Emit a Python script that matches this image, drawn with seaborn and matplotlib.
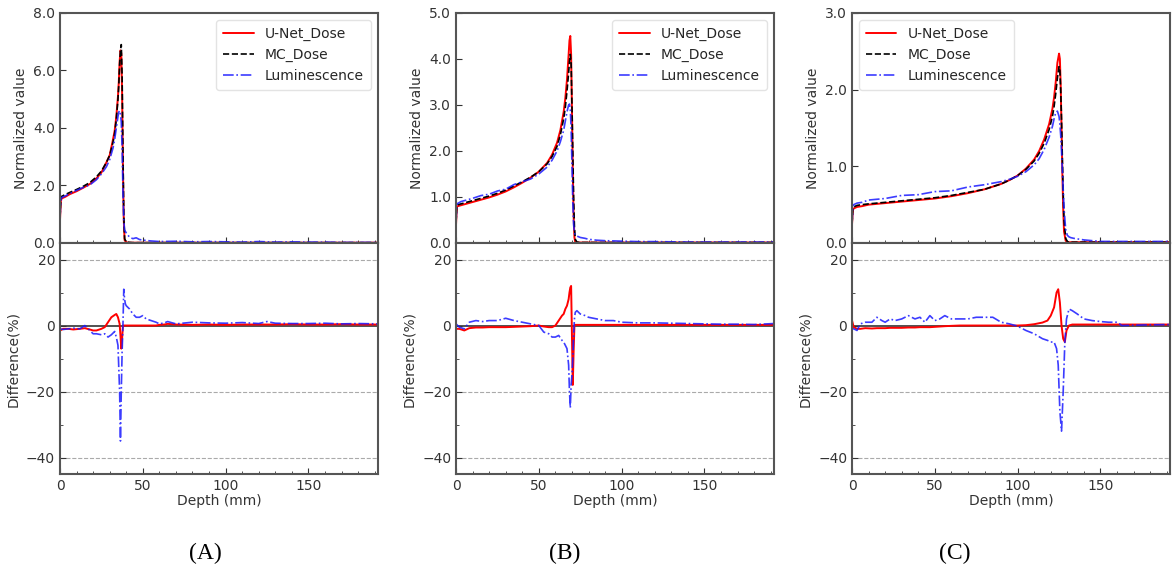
#%% imports
import numpy as np
import pandas as pd
import matplotlib
matplotlib.use('Agg')
import matplotlib.pyplot as plt
import matplotlib.ticker as ticker
import seaborn as sns

#%% data
# panel A: depth-dose profiles
depth_a = [0, 0.5, 1, 3, 6, 10, 14, 18, 22, 25, 28, 30, 32, 33, 34, 35, 35.5, 36, 36.5, 37,
           37.5, 38, 38.5, 39, 40, 42, 44, 46, 48, 50, 55, 60, 70, 80, 90, 100, 110, 120, 130,
           140, 150, 160, 170, 180, 192]
mc_a = [0.9, 1.5, 1.62, 1.68, 1.76, 1.86, 1.97, 2.1, 2.3, 2.5, 2.8, 3.05, 3.5, 3.8, 4.3,
        5.0, 5.5, 6.2, 6.7, 6.9, 5.8, 3.2, 1.0, 0.15, 0.03, 0.02, 0.01, 0.01, 0.01, 0.01,
        0.01, 0.01, 0.01, 0.01, 0.01, 0.01, 0.01, 0.01, 0.01, 0.01, 0.01, 0.01, 0.01, 0.01, 0.01]
unet_a = [0.8, 1.45, 1.55, 1.6, 1.7, 1.8, 1.92, 2.05, 2.25, 2.45, 2.8, 3.05, 3.6, 3.9, 4.4,
          5.1, 5.6, 6.3, 6.7, 6.6, 5.2, 2.6, 0.8, 0.1, 0.02, 0.01, 0.01, 0.01, 0.01, 0.01,
          0.01, 0.01, 0.01, 0.01, 0.01, 0.01, 0.01, 0.01, 0.01, 0.01, 0.01, 0.01, 0.01, 0.01, 0.01]
lum_a = [0.85, 1.5, 1.58, 1.63, 1.72, 1.83, 1.93, 2.02, 2.2, 2.4, 2.65, 2.9, 3.3, 3.6, 4.0,
         4.4, 4.55, 4.6, 4.5, 4.2, 3.3, 1.8, 0.8, 0.45, 0.35, 0.2, 0.15, 0.18, 0.12, 0.1,
         0.07, 0.05, 0.06, 0.04, 0.05, 0.04, 0.03, 0.05, 0.03, 0.04, 0.03, 0.03, 0.02, 0.02, 0.02]

# panel A: differences (%)
depth_diff_a = [0, 2, 5, 8, 12, 15, 18, 20, 22, 25, 27, 29, 31, 33, 34, 35, 36, 36.5, 37, 37.5,
                38, 38.5, 39, 39.5, 40, 42, 44, 46, 48, 50, 52, 55, 58, 60, 63, 65, 70, 80, 90,
                100, 110, 120, 125, 130, 140, 150, 160, 170, 180, 192]
unet_diff_a = [-1.5, -1.0, -1.0, -1.2, -1.0, -0.8, -1.2, -1.5, -1.5, -1.0, -0.5, 1.0, 2.5, 3.2,
               3.5, 2.5, 0.5, -3.0, -7.0, -4.0, 0.0, 0.0, 0.0, 0.0, 0.0, 0.0, 0.0, 0.0, 0.0,
               0.0, 0.0, 0.0, 0.0, 0.2, 0.3, 0.5, 0.3, 0.2, 0.3, 0.2, 0.3, 0.3, 0.3, 0.3, 0.4,
               0.3, 0.3, 0.4, 0.3, 0.3]
lum_diff_a = [-1.0, -1.2, -1.0, -0.8, -1.0, 0.0, -1.5, -2.5, -2.5, -2.8, -2.5, -3.5, -2.8, -1.8,
              -3.5, -6.0, -20.0, -35.0, -20.0, -8.0, 0.0, 11.0, 8.0, 6.5, 6.0, 5.0, 3.5, 2.5,
              2.5, 3.0, 2.0, 1.5, 1.0, 0.5, 0.8, 1.2, 0.5, 1.0, 0.8, 0.7, 0.9, 0.6, 1.2, 0.7,
              0.6, 0.6, 0.7, 0.5, 0.6, 0.5]

# panel B: depth-dose profiles
depth_b = [0, 0.5, 1, 3, 6, 10, 15, 20, 25, 30, 35, 40, 45, 50, 55, 58, 61, 63, 65, 66, 67, 68,
           68.5, 69, 69.5, 70, 70.5, 71, 71.5, 72, 73, 75, 78, 80, 85, 90, 100, 110, 120, 140,
           160, 180, 192]
mc_b = [0.45, 0.8, 0.83, 0.85, 0.88, 0.92, 0.97, 1.02, 1.08, 1.15, 1.24, 1.33, 1.43, 1.55, 1.72,
        1.88, 2.1, 2.35, 2.7, 2.95, 3.3, 3.7, 3.95, 4.1, 3.9, 3.0, 2.0, 1.0, 0.35, 0.08,
        0.02, 0.01, 0.01, 0.01, 0.01, 0.01, 0.01, 0.01, 0.01, 0.01, 0.01, 0.01, 0.01]
unet_b = [0.4, 0.78, 0.8, 0.82, 0.85, 0.89, 0.94, 0.99, 1.05, 1.12, 1.21, 1.31, 1.42, 1.55, 1.74,
          1.92, 2.18, 2.45, 2.85, 3.15, 3.55, 4.1, 4.4, 4.5, 4.1, 2.9, 1.6, 0.6, 0.12, 0.02,
          0.01, 0.01, 0.01, 0.01, 0.01, 0.01, 0.01, 0.01, 0.01, 0.01, 0.01, 0.01, 0.01]
lum_b = [0.45, 0.82, 0.86, 0.9, 0.93, 0.97, 1.03, 1.06, 1.13, 1.17, 1.27, 1.33, 1.39, 1.5, 1.65,
         1.8, 2.0, 2.2, 2.45, 2.65, 2.85, 3.0, 3.02, 2.9, 2.5, 1.7, 0.9, 0.4, 0.22, 0.18,
         0.15, 0.12, 0.1, 0.08, 0.06, 0.05, 0.04, 0.03, 0.03, 0.02, 0.02, 0.02, 0.02]

# panel B: differences (%)
depth_diff_b = [0, 2, 5, 8, 12, 16, 20, 25, 30, 35, 40, 45, 50, 53, 56, 58, 60, 62, 64, 65, 66,
                67, 68, 68.5, 69, 69.5, 70, 70.5, 71, 71.5, 72, 73, 75, 78, 80, 85, 90, 95, 100,
                110, 120, 130, 140, 150, 160, 170, 180, 192]
unet_diff_b = [-1.0, -1.0, -1.5, -0.8, -0.6, -0.6, -0.5, -0.5, -0.5, -0.4, -0.3, -0.2, 0.0, -0.3,
               -0.5, -0.5, 0.0, 1.5, 3.0, 3.5, 5.0, 6.0, 8.0, 10.0, 11.5, 12.0, -3.0, -18.0,
               -8.0, 0.0, 0.2, 0.2, 0.2, 0.2, 0.2, 0.2, 0.2, 0.2, 0.2, 0.2, 0.2, 0.2, 0.2, 0.2,
               0.2, 0.2, 0.2, 0.2]
lum_diff_b = [0.5, -0.5, -1.0, 1.0, 1.5, 1.2, 1.5, 1.5, 2.2, 1.5, 1.0, 0.5, 0.0, -2.0, -2.5,
              -3.5, -3.5, -3.0, -4.5, -5.0, -6.0, -7.0, -12.0, -20.0, -25.0, -18.0, -15.0,
              -10.0, -3.0, 2.0, 4.0, 4.5, 3.5, 3.0, 2.5, 2.0, 1.5, 1.5, 1.0, 0.8, 0.8, 0.7,
              0.6, 0.5, 0.4, 0.4, 0.3, 0.6]

# panel C: depth-dose profiles
depth_c = [0, 0.5, 1, 3, 6, 10, 20, 30, 40, 50, 60, 70, 80, 90, 95, 100, 105, 110, 113, 116,
           119, 121, 122, 123, 124, 125, 125.5, 126, 126.5, 127, 127.5, 128, 129, 130, 131, 132,
           134, 137, 140, 145, 150, 160, 170, 180, 192]
mc_c = [0.25, 0.45, 0.47, 0.49, 0.5, 0.51, 0.53, 0.55, 0.57, 0.59, 0.62, 0.66, 0.7, 0.77, 0.82,
        0.88, 0.96, 1.07, 1.17, 1.3, 1.48, 1.65, 1.78, 1.95, 2.15, 2.3, 2.25, 2.0, 1.6, 1.1,
        0.65, 0.3, 0.06, 0.02, 0.01, 0.01, 0.01, 0.01, 0.01, 0.01, 0.01, 0.01, 0.01, 0.01, 0.01]
unet_c = [0.25, 0.43, 0.45, 0.47, 0.48, 0.5, 0.52, 0.54, 0.56, 0.58, 0.61, 0.65, 0.7, 0.77, 0.82,
          0.88, 0.97, 1.09, 1.2, 1.35, 1.55, 1.75, 1.9, 2.1, 2.35, 2.47, 2.4, 2.05, 1.5, 0.9,
          0.45, 0.15, 0.03, 0.01, 0.01, 0.01, 0.01, 0.01, 0.01, 0.01, 0.01, 0.01, 0.01, 0.01, 0.01]
lum_c = [0.25, 0.47, 0.5, 0.52, 0.53, 0.56, 0.58, 0.62, 0.63, 0.67, 0.68, 0.73, 0.76, 0.8, 0.83,
         0.87, 0.93, 1.02, 1.1, 1.22, 1.38, 1.52, 1.62, 1.7, 1.72, 1.65, 1.55, 1.4, 1.2, 0.95,
         0.7, 0.45, 0.18, 0.1, 0.08, 0.07, 0.06, 0.05, 0.04, 0.03, 0.02, 0.02, 0.02, 0.02, 0.02]

# panel C: differences (%)
depth_diff_c = [0, 1, 3, 5, 8, 12, 15, 18, 20, 23, 26, 30, 34, 38, 41, 44, 47, 50, 53, 56, 60,
                65, 70, 75, 80, 85, 90, 95, 100, 105, 110, 115, 118, 120, 122, 123.5, 124.5,
                125.5, 126.5, 127.5, 128.5, 129.5, 131, 133, 136, 140, 145, 150, 155, 160, 163,
                170, 180, 192]
unet_diff_c = [1.5, -0.5, -1.0, -1.0, -0.8, -0.9, -0.8, -0.8, -0.8, -0.7, -0.7, -0.7, -0.6, -0.6,
               -0.5, -0.5, -0.5, -0.4, -0.3, -0.2, -0.1, 0.0, 0.0, 0.0, 0.0, 0.0, 0.0, 0.0, 0.0,
               0.1, 0.4, 0.9, 1.5, 3.0, 5.5, 10.0, 11.0, 7.0, 0.0, -4.0, -5.0, -1.5, 0.0, 0.3,
               0.3, 0.3, 0.3, 0.3, 0.3, 0.3, 0.3, 0.3, 0.3, 0.3]
lum_diff_c = [-1.0, -1.0, -1.5, 0.5, 1.0, 1.0, 2.5, 1.5, 1.0, 2.0, 1.5, 2.0, 3.0, 2.0, 2.5, 1.0,
              3.0, 1.5, 2.0, 3.0, 2.0, 2.0, 2.0, 2.5, 2.5, 2.5, 1.0, 0.5, -0.2, -1.5, -2.5,
              -4.0, -4.5, -5.0, -5.0, -7.0, -12.0, -26.0, -32.0, -20.0, -5.0, 2.0, 5.0, 4.5,
              3.5, 2.0, 1.5, 1.2, 1.0, 1.0, 0.0, 0.1, 0.2, 0.3]

series_labels = ['U-Net_Dose', 'MC_Dose', 'Luminescence']
panel_letters = ['(A)', '(B)', '(C)']
top_ylims = [8.0, 5.0, 3.0]
top_ysteps = [2.0, 1.0, 1.0]
legend_locs = ['upper right', 'upper right', 'upper left']

#%% style
sns.set_style('ticks')
plt.rcParams['font.family'] = ['DejaVu Sans']
plt.rcParams['xtick.direction'] = 'in'
plt.rcParams['ytick.direction'] = 'in'
plt.rcParams['font.size'] = 10

spine_color = '#555555'
line_styles = [
  dict(color='#ff0000', linestyle='-', linewidth=1.4),
  dict(color='black', linestyle='--', linewidth=1.2),
  dict(color='#1a1aff', linestyle='-.', linewidth=1.2, alpha=0.85),
]

profiles = [
  (depth_a, [unet_a, mc_a, lum_a], depth_diff_a, unet_diff_a, lum_diff_a),
  (depth_b, [unet_b, mc_b, lum_b], depth_diff_b, unet_diff_b, lum_diff_b),
  (depth_c, [unet_c, mc_c, lum_c], depth_diff_c, unet_diff_c, lum_diff_c),
]

lefts = [0.0512, 0.3891, 0.7270]
width = 0.2713
caption_x = [0.1749, 0.4821, 0.8148]


def style_axes(ax):
  for spine in ax.spines.values():
    spine.set_visible(True)
    spine.set_color(spine_color)
    spine.set_linewidth(1.5)
  ax.xaxis.set_major_locator(ticker.MultipleLocator(50))
  ax.xaxis.set_minor_locator(ticker.MultipleLocator(10))
  ax.tick_params(which='both', colors='#333333', labelsize=10)
  ax.tick_params(which='major', length=4)
  ax.tick_params(which='minor', length=2.5)
  ax.set_xlim(0, 192)


#%% figure
fig = plt.figure(figsize=(11.72, 5.74), dpi=100)

for i, (depth, curves, depth_diff, unet_diff, lum_diff) in enumerate(profiles):
  ax_top = fig.add_axes([lefts[i], 0.5767, width, 0.4007])
  ax_bot = fig.add_axes([lefts[i], 0.1742, width, 0.4024])

  # top: normalized profiles
  for values, label, style in zip(curves, series_labels, line_styles):
    sns.lineplot(x=depth, y=values, ax=ax_top, label=label, **style)
  style_axes(ax_top)
  ax_top.set_ylim(0, top_ylims[i])
  ax_top.yaxis.set_major_locator(ticker.MultipleLocator(top_ysteps[i]))
  ax_top.yaxis.set_major_formatter(ticker.FormatStrFormatter('%.1f'))
  ax_top.set_xticklabels([])
  ax_top.set_ylabel('Normalized value', color='#333333')
  ax_top.set_xlabel('')
  leg = ax_top.legend(loc=legend_locs[i], fontsize=10, frameon=True, fancybox=True,
                      handlelength=2.2, borderpad=0.5, labelspacing=0.5)
  leg.get_frame().set_edgecolor('#dddddd')

  # bottom: differences
  ax_bot.axhline(0, color='#333333', linewidth=1.2, zorder=1)
  sns.lineplot(x=depth_diff, y=unet_diff, ax=ax_bot, **line_styles[0])
  sns.lineplot(x=depth_diff, y=lum_diff, ax=ax_bot, **line_styles[2])
  style_axes(ax_bot)
  ax_bot.set_ylim(-45, 25)
  ax_bot.set_yticks([20, 0, -20, -40])
  ax_bot.yaxis.set_minor_locator(ticker.MultipleLocator(10))
  for y in [20, -20, -40]:
    ax_bot.axhline(y, color='#aaaaaa', linestyle='--', linewidth=0.8, zorder=0)
  ax_bot.set_ylabel('Difference(%)', color='#333333')
  ax_bot.set_xlabel('Depth (mm)', color='#333333', labelpad=1)

  fig.text(caption_x[i], 0.0366, panel_letters[i], ha='center', va='center',
           fontsize=17, family='Liberation Serif', color='black')

fig.savefig('out.png', dpi=100)
